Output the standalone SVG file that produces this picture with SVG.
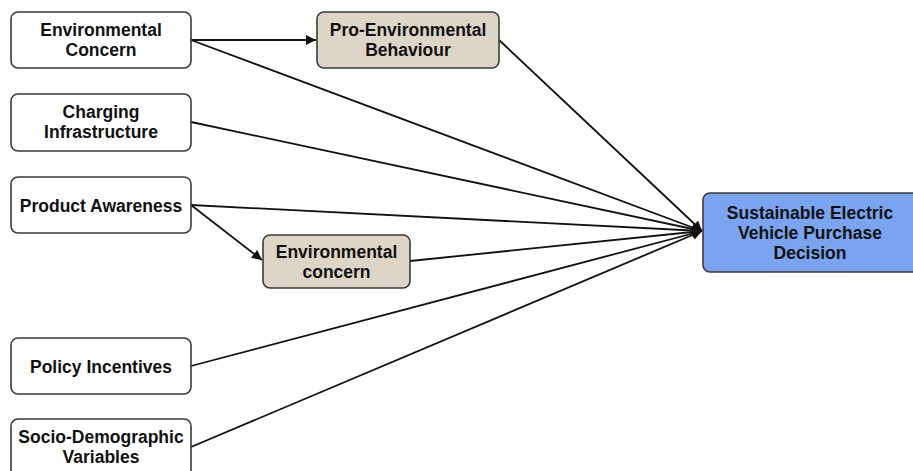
<svg xmlns="http://www.w3.org/2000/svg" width="913" height="471" viewBox="0 0 913 471">
<style>
.box{fill:#ffffff;stroke:#3a3a3a;stroke-width:1.6}
.med{fill:#ddd6c8;stroke:#3a3a3a;stroke-width:1.6}
.out{fill:#7aa4ef;stroke:#3a3a3a;stroke-width:1.6}
.t{font-family:"Liberation Sans",Arial,sans-serif;font-weight:bold;font-size:17.5px;fill:#111;text-anchor:middle}
.c{stroke:#111;stroke-width:1.8;fill:none}
</style>
<defs>
<marker id="ah" viewBox="0 0 10 10" refX="10" refY="5" markerWidth="11" markerHeight="10" markerUnits="userSpaceOnUse" orient="auto">
<path d="M0,0 L10,5 L0,10 z" fill="#111"/>
</marker>
</defs>
<rect width="913" height="471" fill="#ffffff"/>
<g id="connectors">
<line class="c" x1="191" y1="40" x2="316" y2="40" marker-end="url(#ah)"/>
<line class="c" x1="191" y1="40" x2="702" y2="231" marker-end="url(#ah)"/>
<line class="c" x1="499" y1="40" x2="702" y2="231" marker-end="url(#ah)"/>
<line class="c" x1="191" y1="122" x2="702" y2="231" marker-end="url(#ah)"/>
<line class="c" x1="191" y1="205" x2="702" y2="231" marker-end="url(#ah)"/>
<line class="c" x1="191" y1="205" x2="262" y2="260" marker-end="url(#ah)"/>
<line class="c" x1="410" y1="261" x2="702" y2="231" marker-end="url(#ah)"/>
<line class="c" x1="191" y1="366" x2="702" y2="231" marker-end="url(#ah)"/>
<line class="c" x1="191" y1="447" x2="702" y2="231" marker-end="url(#ah)"/>
</g>
<g id="env-concern">
<rect class="box" x="11" y="12" width="180" height="56" rx="7"/>
<text class="t" x="101" y="36">Environmental</text>
<text class="t" x="101" y="56">Concern</text>
</g>
<g id="charging">
<rect class="box" x="11" y="94" width="180" height="57" rx="7"/>
<text class="t" x="101" y="118">Charging</text>
<text class="t" x="101" y="138">Infrastructure</text>
</g>
<g id="product-awareness">
<rect class="box" x="11" y="177" width="180" height="56" rx="7"/>
<text class="t" x="101" y="212">Product Awareness</text>
</g>
<g id="policy">
<rect class="box" x="11" y="338" width="180" height="56" rx="7"/>
<text class="t" x="101" y="373">Policy Incentives</text>
</g>
<g id="socio">
<rect class="box" x="11" y="419" width="180" height="60" rx="7"/>
<text class="t" x="101" y="443">Socio-Demographic</text>
<text class="t" x="101" y="463">Variables</text>
</g>
<g id="pro-env">
<rect class="med" x="317" y="12" width="182" height="56" rx="7"/>
<text class="t" x="408" y="36">Pro-Environmental</text>
<text class="t" x="408" y="56">Behaviour</text>
</g>
<g id="env-concern-med">
<rect class="med" x="263" y="235" width="147" height="53" rx="7"/>
<text class="t" x="336.5" y="258">Environmental</text>
<text class="t" x="336.5" y="278">concern</text>
</g>
<g id="decision">
<rect class="out" x="703" y="193" width="216" height="79" rx="7"/>
<text class="t" x="810" y="219">Sustainable Electric</text>
<text class="t" x="810" y="239">Vehicle Purchase</text>
<text class="t" x="810" y="259">Decision</text>
</g>
</svg>
